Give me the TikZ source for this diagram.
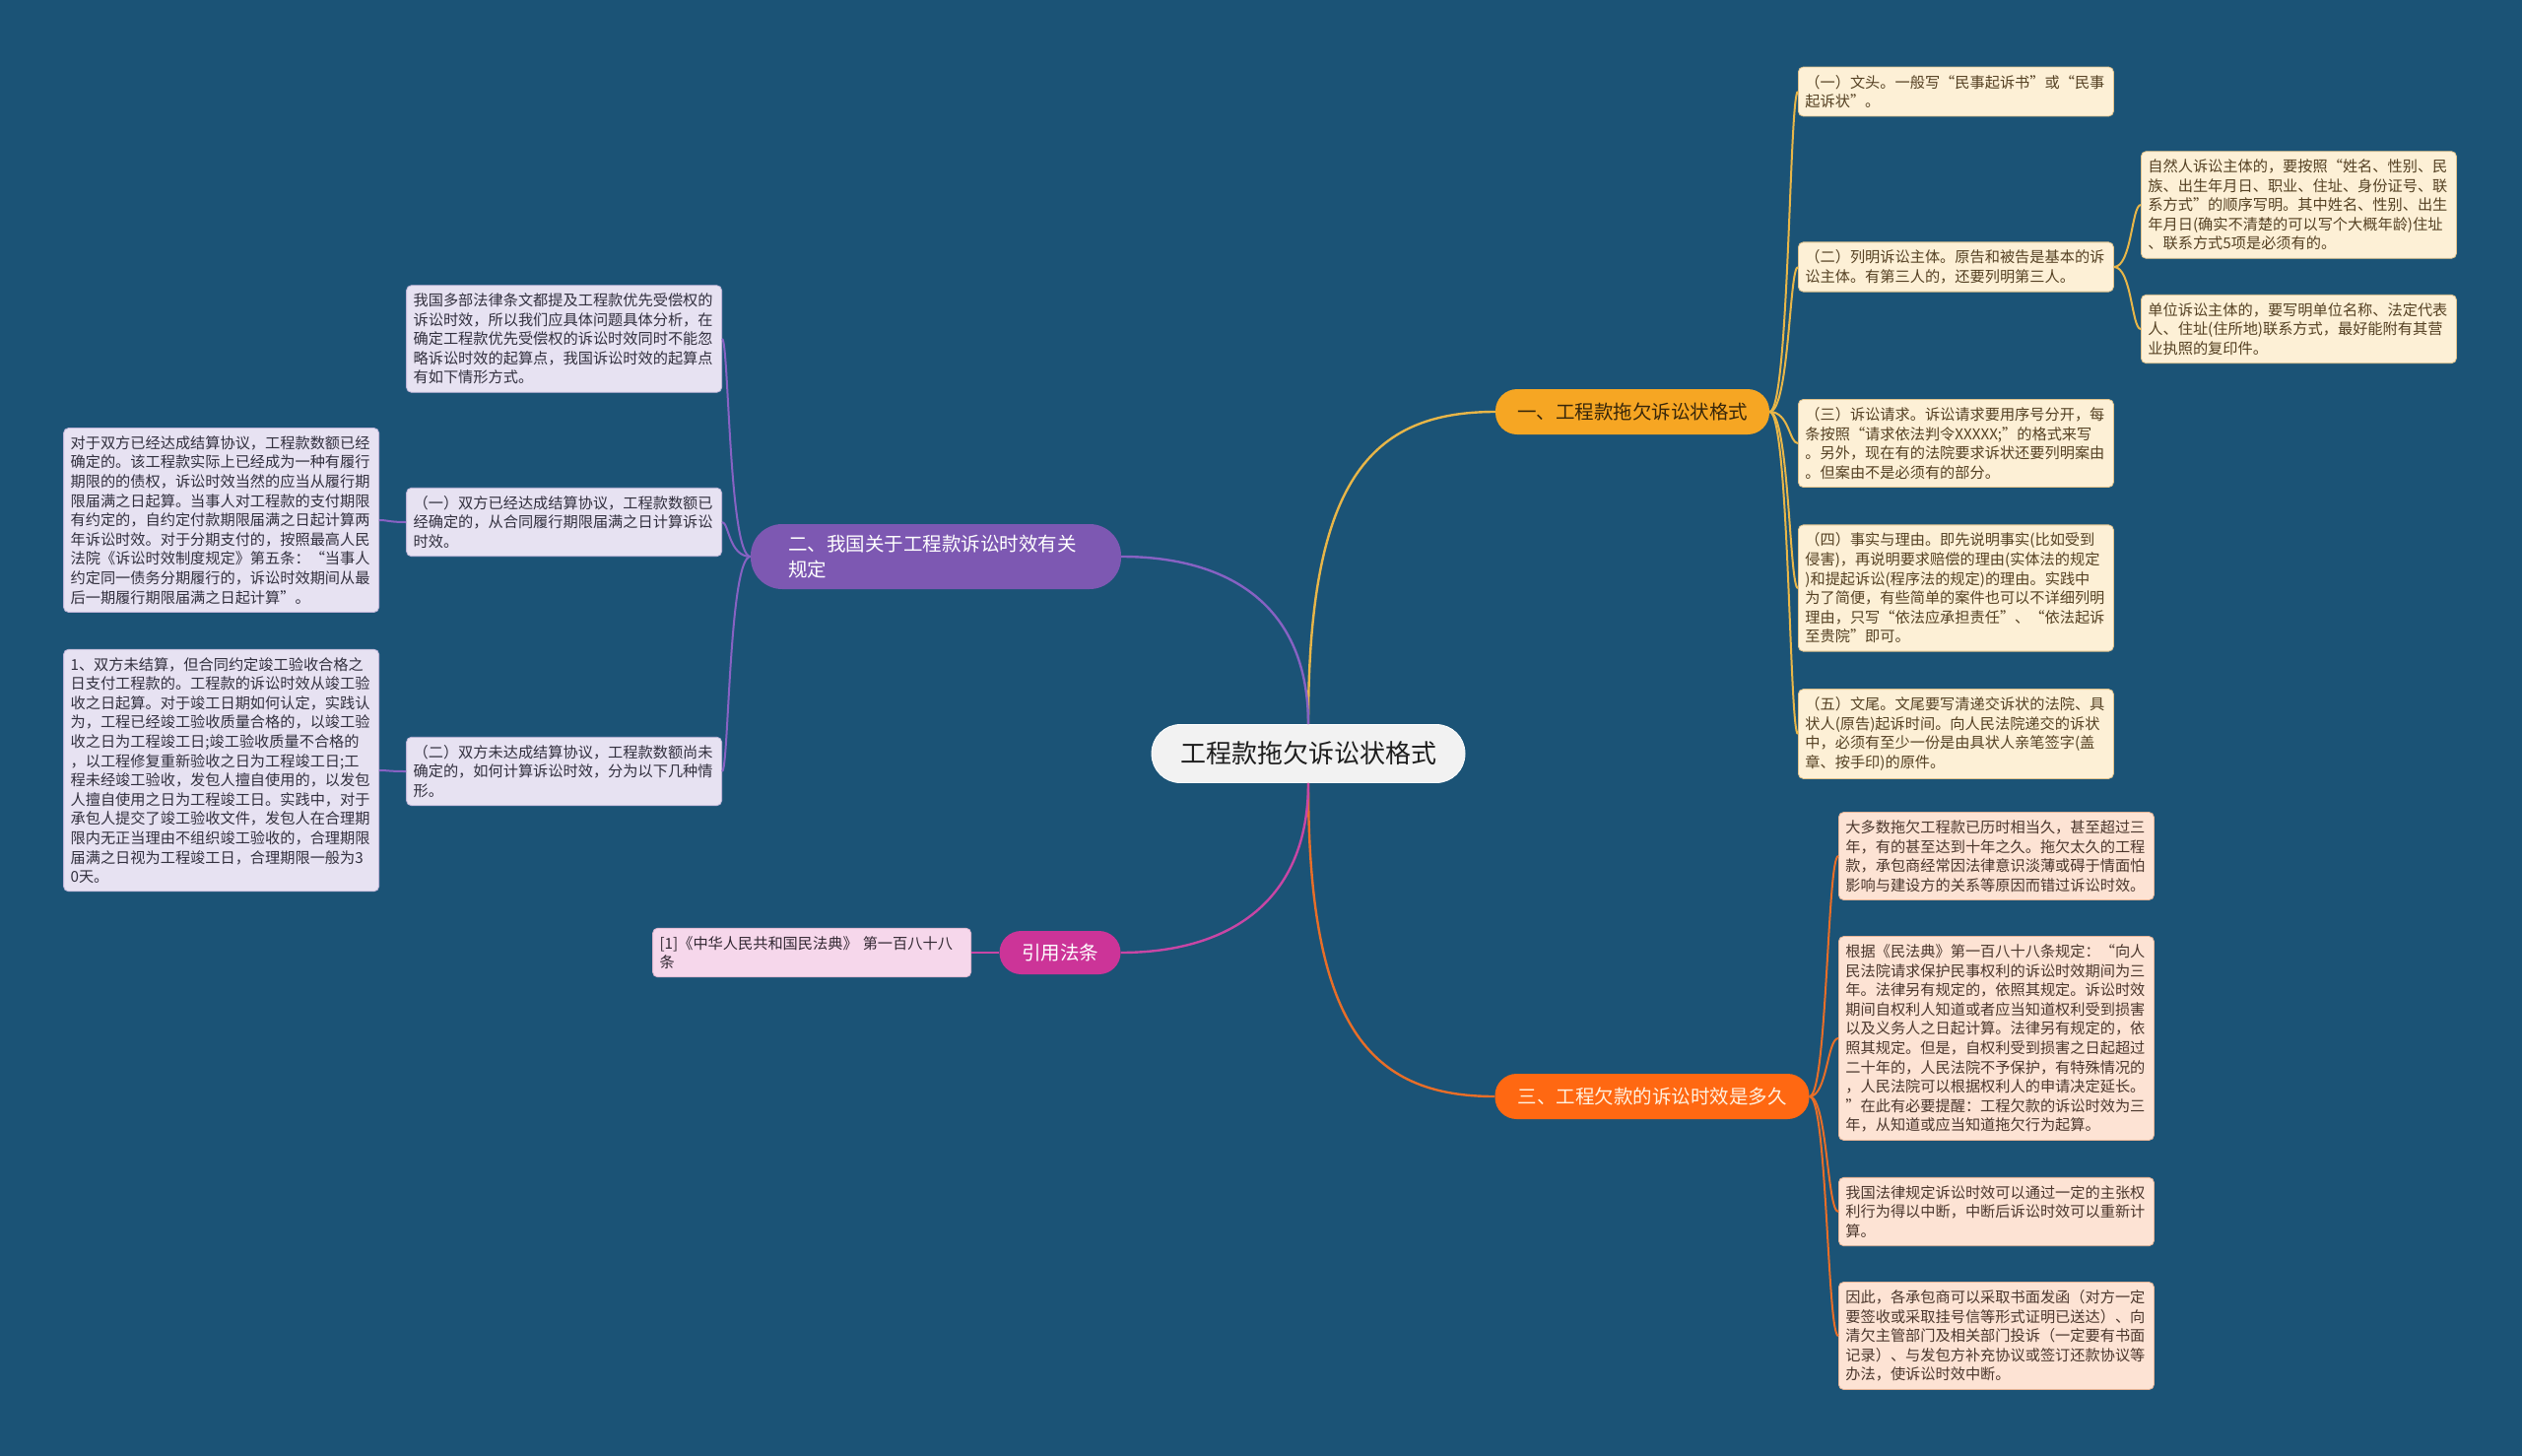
\documentclass[tikz,border=0pt]{standalone}
\usepackage{fontspec}
\newfontfamily\cjk{Noto Sans CJK SC}
\usetikzlibrary{calc}
\definecolor{bg}{RGB}{27,83,118}
\definecolor{ctfill}{RGB}{242,242,242}
\definecolor{ctext}{RGB}{30,30,30}
\definecolor{oneB}{RGB}{246,166,35}
\definecolor{oneT}{RGB}{55,38,10}
\definecolor{oneL}{RGB}{253,240,214}
\definecolor{oneE}{RGB}{225,195,140}
\definecolor{oneLT}{RGB}{85,65,35}
\definecolor{oneC}{RGB}{232,182,72}
\definecolor{twoB}{RGB}{125,88,178}
\definecolor{twoL}{RGB}{231,226,242}
\definecolor{twoE}{RGB}{190,180,215}
\definecolor{twoLT}{RGB}{50,48,62}
\definecolor{twoC}{RGB}{135,98,195}
\definecolor{thrB}{RGB}{255,104,18}
\definecolor{thrT}{RGB}{255,242,225}
\definecolor{thrL}{RGB}{253,227,212}
\definecolor{thrE}{RGB}{230,180,150}
\definecolor{thrLT}{RGB}{75,55,45}
\definecolor{thrC}{RGB}{232,110,40}
\definecolor{fouB}{RGB}{204,52,152}
\definecolor{fouL}{RGB}{246,215,235}
\definecolor{fouE}{RGB}{220,180,205}
\definecolor{fouLT}{RGB}{50,40,50}
\definecolor{fouC}{RGB}{200,70,165}
\newcommand\leaffont{\cjk\fontsize{15.2}{19.6}\selectfont}
\newcommand\brfont{\cjk\fontsize{19.5}{26}\selectfont}
\newcommand\ctfont{\cjk\fontsize{26}{32}\selectfont}
\tikzset{
  leaf/.style={rounded corners=5pt, text width=306pt, align=left, inner xsep=7pt, inner ysep=8pt, font=\leaffont, line width=0.8pt},
  leafone/.style={leaf, fill=oneL, draw=oneE, text=oneLT},
  leaftwo/.style={leaf, fill=twoL, draw=twoE, text=twoLT},
  leafthr/.style={leaf, fill=thrL, draw=thrE, text=thrLT},
  leaffou/.style={leaf, fill=fouL, draw=fouE, text=fouLT},
  branch/.style={rounded corners=22pt, font=\brfont, inner sep=0pt, minimum height=46pt, align=center},
  mainconn/.style={line width=2.4pt},
  leafconn/.style={line width=2pt},
}
\begin{document}
\begin{tikzpicture}[x=1pt,y=-1pt]
\fill[bg] (0,0) rectangle (2560,1478);
\useasboundingbox (0,0) rectangle (2560,1478);

% center
\node[rounded corners=29pt, fill=ctfill, draw=white, line width=0.8pt, text=ctext, font=\ctfont, minimum width=318pt, minimum height=59pt, inner sep=0pt] (c) at (1328,765) {工程款拖欠诉讼状格式};

% branches
\node[branch, fill=oneB, text=oneT, minimum width=278pt] (b1) at (1657,418) {一、工程款拖欠诉讼状格式};
\node[branch, fill=twoB, text=white, text width=300pt, align=left, minimum width=376pt, minimum height=66pt, rounded corners=32pt] (b2) at (950,565) {二、我国关于工程款诉讼时效有关\\规定};
\node[branch, fill=thrB, text=thrT, minimum width=319pt] (b3) at (1677,1113) {三、工程欠款的诉讼时效是多久};
\node[branch, fill=fouB, text=white, minimum width=123pt, minimum height=44pt] (b4) at (1076,967) {引用法条};

% branch 1 leaves
\node[leafone, anchor=west] (l1a) at (1825,93) {（一）文头。一般写“民事起诉书”或“民事\\起诉状”。};
\node[leafone, anchor=west] (l1b) at (1825,271) {（二）列明诉讼主体。原告和被告是基本的诉\\讼主体。有第三人的，还要列明第三人。};
\node[leafone, anchor=west] (l1b1) at (2173,208) {自然人诉讼主体的，要按照“姓名、性别、民\\族、出生年月日、职业、住址、身份证号、联\\系方式”的顺序写明。其中姓名、性别、出生\\年月日(确实不清楚的可以写个大概年龄)住址\\、联系方式5项是必须有的。};
\node[leafone, anchor=west] (l1b2) at (2173,334) {单位诉讼主体的，要写明单位名称、法定代表\\人、住址(住所地)联系方式，最好能附有其营\\业执照的复印件。};
\node[leafone, anchor=west] (l1c) at (1825,450) {（三）诉讼请求。诉讼请求要用序号分开，每\\条按照“请求依法判令XXXXX;”的格式来写\\。另外，现在有的法院要求诉状还要列明案由\\。但案由不是必须有的部分。};
\node[leafone, anchor=west] (l1d) at (1825,597) {（四）事实与理由。即先说明事实(比如受到\\侵害)，再说明要求赔偿的理由(实体法的规定\\)和提起诉讼(程序法的规定)的理由。实践中\\为了简便，有些简单的案件也可以不详细列明\\理由，只写“依法应承担责任”、“依法起诉\\至贵院”即可。};
\node[leafone, anchor=west] (l1e) at (1825,745) {（五）文尾。文尾要写清递交诉状的法院、具\\状人(原告)起诉时间。向人民法院递交的诉状\\中，必须有至少一份是由具状人亲笔签字(盖\\章、按手印)的原件。};

% branch 3 leaves
\node[leafthr, anchor=west] (l3a) at (1866,869) {大多数拖欠工程款已历时相当久，甚至超过三\\年，有的甚至达到十年之久。拖欠太久的工程\\款，承包商经常因法律意识淡薄或碍于情面怕\\影响与建设方的关系等原因而错过诉讼时效。};
\node[leafthr, anchor=west] (l3b) at (1866,1054) {根据《民法典》第一百八十八条规定：“向人\\民法院请求保护民事权利的诉讼时效期间为三\\年。法律另有规定的，依照其规定。诉讼时效\\期间自权利人知道或者应当知道权利受到损害\\以及义务人之日起计算。法律另有规定的，依\\照其规定。但是，自权利受到损害之日起超过\\二十年的，人民法院不予保护，有特殊情况的\\，人民法院可以根据权利人的申请决定延长。\\”在此有必要提醒：工程欠款的诉讼时效为三\\年，从知道或应当知道拖欠行为起算。};
\node[leafthr, anchor=west] (l3c) at (1866,1230) {我国法律规定诉讼时效可以通过一定的主张权\\利行为得以中断，中断后诉讼时效可以重新计\\算。};
\node[leafthr, anchor=west] (l3d) at (1866,1356) {因此，各承包商可以采取书面发函（对方一定\\要签收或采取挂号信等形式证明已送达）、向\\清欠主管部门及相关部门投诉（一定要有书面\\记录）、与发包方补充协议或签订还款协议等\\办法，使诉讼时效中断。};

% branch 2 leaves
\node[leaftwo, anchor=east] (l2a) at (733,344) {我国多部法律条文都提及工程款优先受偿权的\\诉讼时效，所以我们应具体问题具体分析，在\\确定工程款优先受偿权的诉讼时效同时不能忽\\略诉讼时效的起算点，我国诉讼时效的起算点\\有如下情形方式。};
\node[leaftwo, anchor=east] (l2b) at (733,530) {（一）双方已经达成结算协议，工程款数额已\\经确定的，从合同履行期限届满之日计算诉讼\\时效。};
\node[leaftwo, anchor=east] (l2b1) at (385,528) {对于双方已经达成结算协议，工程款数额已经\\确定的。该工程款实际上已经成为一种有履行\\期限的的债权，诉讼时效当然的应当从履行期\\限届满之日起算。当事人对工程款的支付期限\\有约定的，自约定付款期限届满之日起计算两\\年诉讼时效。对于分期支付的，按照最高人民\\法院《诉讼时效制度规定》第五条：“当事人\\约定同一债务分期履行的，诉讼时效期间从最\\后一期履行期限届满之日起计算”。};
\node[leaftwo, anchor=east] (l2c) at (733,783) {（二）双方未达成结算协议，工程款数额尚未\\确定的，如何计算诉讼时效，分为以下几种情\\形。};
\node[leaftwo, anchor=east] (l2c1) at (385,782) {1、双方未结算，但合同约定竣工验收合格之\\日支付工程款的。工程款的诉讼时效从竣工验\\收之日起算。对于竣工日期如何认定，实践认\\为，工程已经竣工验收质量合格的，以竣工验\\收之日为工程竣工日;竣工验收质量不合格的\\，以工程修复重新验收之日为工程竣工日;工\\程未经竣工验收，发包人擅自使用的，以发包\\人擅自使用之日为工程竣工日。实践中，对于\\承包人提交了竣工验收文件，发包人在合理期\\限内无正当理由不组织竣工验收的，合理期限\\届满之日视为工程竣工日，合理期限一般为3\\0天。};

% branch 4 leaf
\node[leaffou, anchor=east, text width=309pt] (l4a) at (986,967) {[1]《中华人民共和国民法典》 第一百八十八\\条};

% main connectors
\draw[mainconn, oneC] (c.north) .. controls +(0,-246) and +(-128,0) .. (b1.west);
\draw[mainconn, twoC] (c.north) .. controls +(0,-120) and +(110,0) .. (b2.east);
\draw[mainconn, thrC] (c.south) .. controls +(0,246) and +(-128,0) .. (b3.west);
\draw[mainconn, fouC] (c.south) .. controls +(0,120) and +(110,0) .. (b4.east);

% branch 1 leaf connectors
\coordinate (s1) at ($(b1.east)+(20,0)$);
\foreach \n in {l1a,l1b,l1c,l1d,l1e}{
  \draw[leafconn, oneC] (b1.east) .. controls (s1) and (s1 |- \n.west) .. (\n.west);
}
\coordinate (s1b) at ($(l1b.east)+(18,0)$);
\foreach \n in {l1b1,l1b2}{
  \draw[leafconn, oneC] (l1b.east) .. controls (s1b) and (s1b |- \n.west) .. (\n.west);
}

% branch 3 leaf connectors
\coordinate (s3) at ($(b3.east)+(18,0)$);
\foreach \n in {l3a,l3b,l3c,l3d}{
  \draw[leafconn, thrC] (b3.east) .. controls (s3) and (s3 |- \n.west) .. (\n.west);
}

% branch 2 leaf connectors
\coordinate (s2) at ($(b2.west)+(-22,0)$);
\foreach \n in {l2a,l2b,l2c}{
  \draw[leafconn, twoC] (b2.west) .. controls (s2) and (s2 |- \n.east) .. (\n.east);
}
\coordinate (s2b) at ($(l2b.west)+(-18,0)$);
\draw[leafconn, twoC] (l2b.west) .. controls (s2b) and (s2b |- l2b1.east) .. (l2b1.east);
\coordinate (s2c) at ($(l2c.west)+(-18,0)$);
\draw[leafconn, twoC] (l2c.west) .. controls (s2c) and (s2c |- l2c1.east) .. (l2c1.east);

% branch 4 leaf connector
\draw[leafconn, fouC] (b4.west) -- (l4a.east);
\end{tikzpicture}
\end{document}
